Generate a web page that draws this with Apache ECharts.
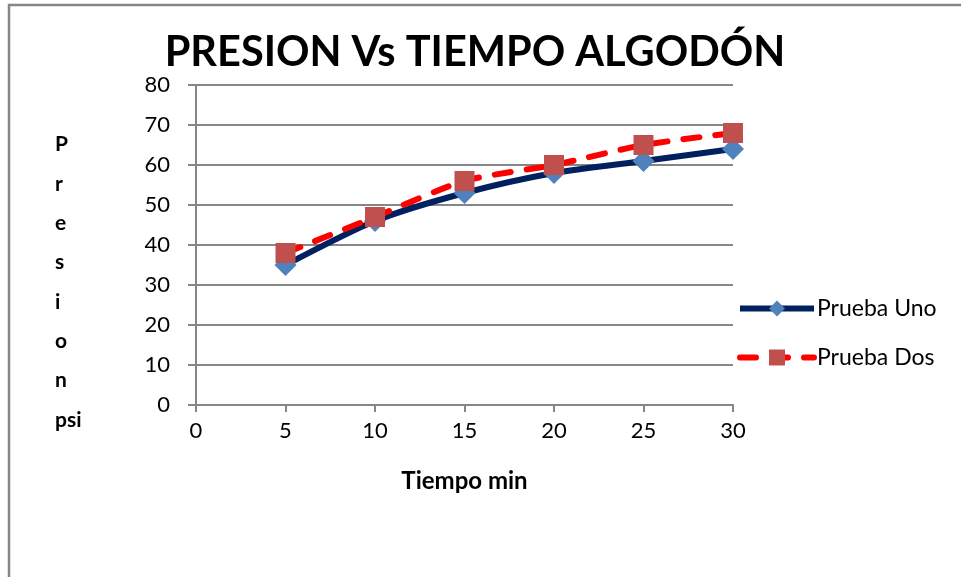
<!DOCTYPE html>
<html>
<head>
<meta charset="utf-8">
<script src="https://cdn.jsdelivr.net/npm/echarts@6/dist/echarts.min.js"></script>
<style>
  html, body { margin: 0; padding: 0; background: #fff; }
  #chart { width: 961px; height: 577px; }
</style>
</head>
<body>
<div id="chart"></div>
<script>
// Tiempo (min) en el eje X
const tiempos = [5, 10, 15, 20, 25, 30];
// Presión (psi) de cada prueba
const pruebaUno = [35, 46, 53, 58, 61, 64];
const pruebaDos = [38, 47, 56, 60, 65, 68];
const nombres = ['Prueba Uno', 'Prueba Dos'];
// Título del eje Y, una letra por renglón
const tituloY = ['P', 'r', 'e', 's', 'i', 'o', 'n', 'psi'];

const FONT = 'Lato, "Open Sans", sans-serif';
const GRIS = '#868686';

const chart = echarts.init(document.getElementById('chart'), null, { renderer: 'canvas' });

chart.setOption({
  backgroundColor: '#ffffff',
  animation: false,
  graphic: [
    {
      type: 'rect',
      shape: { x: 9, y: 5, width: 1000, height: 620 },
      style: { fill: 'none', stroke: GRIS, lineWidth: 2.5 },
      silent: true
    },
    {
      type: 'text',
      left: 55,
      top: 125,
      style: {
        text: tituloY.join('\n'),
        fontFamily: FONT, fontWeight: 'bold', fontSize: 21, fill: '#000',
        lineHeight: 39.3, align: 'center'
      },
      silent: true
    }
  ],
  title: {
    text: 'PRESION Vs TIEMPO ALGODÓN',
    left: 470,
    textAlign: 'center',
    top: 27,
    textStyle: { fontFamily: FONT, fontWeight: 'bold', fontSize: 41.5, color: '#000' }
  },
  legend: {
    orient: 'vertical',
    left: 737,
    top: 297,
    padding: 0,
    itemWidth: 74,
    itemHeight: 20,
    itemGap: 26,
    data: nombres,
    lineStyle: { width: 6 },
    textStyle: { fontFamily: FONT, fontSize: 23, color: '#000', padding: [0, 0, 0, -2] }
  },
  grid: { left: 196, right: 228, top: 85, bottom: 172, containLabel: false },
  xAxis: {
    type: 'value',
    min: 0, max: 30, interval: 5,
    name: 'Tiempo min',
    nameLocation: 'middle',
    nameGap: 64,
    nameTextStyle: { fontFamily: FONT, fontWeight: 'bold', fontSize: 24, color: '#000' },
    axisLine: { show: true, lineStyle: { color: GRIS, width: 2 } },
    axisTick: { show: true, length: 7, lineStyle: { color: GRIS, width: 2 } },
    axisLabel: { fontFamily: FONT, fontSize: 22, color: '#000', margin: 15 },
    splitLine: { show: false }
  },
  yAxis: {
    type: 'value',
    min: 0, max: 80, interval: 10,
    axisLine: { show: true, lineStyle: { color: GRIS, width: 2 } },
    axisTick: { show: true, length: 8, lineStyle: { color: GRIS, width: 2 } },
    axisLabel: { fontFamily: FONT, fontSize: 22, color: '#000', margin: 26 },
    splitLine: { show: true, lineStyle: { color: GRIS, width: 2 } }
  },
  series: [
    {
      name: nombres[0],
      type: 'line',
      data: tiempos.map((t, i) => [t, pruebaUno[i]]),
      smooth: 0.25,
      symbol: 'diamond',
      symbolSize: 22,
      lineStyle: { color: '#002060', width: 6 },
      itemStyle: { color: '#4F81BD', borderWidth: 0 },
      z: 2
    },
    {
      name: nombres[1],
      type: 'line',
      data: tiempos.map((t, i) => [t, pruebaDos[i]]),
      smooth: 0.25,
      symbol: 'rect',
      symbolSize: 20,
      lineStyle: { color: '#FF0000', width: 6, type: [16, 16], cap: 'round' },
      itemStyle: { color: '#C0504D', borderWidth: 0 },
      z: 3
    }
  ]
});
</script>
</body>
</html>
